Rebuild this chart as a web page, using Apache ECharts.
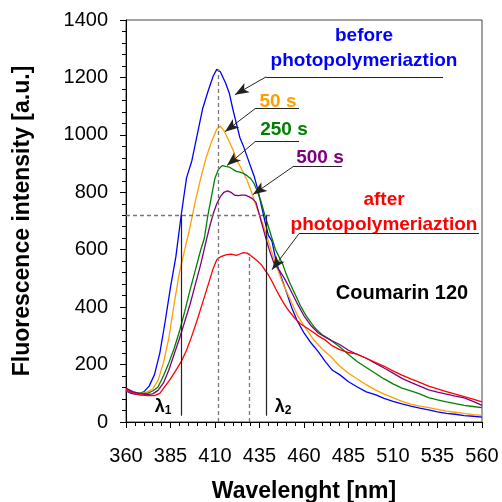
<!DOCTYPE html>
<html>
<head>
<meta charset="utf-8">
<script src="https://cdn.jsdelivr.net/npm/echarts@6/dist/echarts.min.js"></script>
<style>
  html, body { margin: 0; background: #fff; }
  #chart { width: 502px; height: 502px; }
</style>
</head>
<body>
<div id="chart"></div>
<script>
// spectra: [wavelength nm, intensity a.u.]
const before = [[360,108],[363,100],[366,96],[370,105],[373,125],[376,165],[379,240],[382,350],[385,470],[388,575],[391,720],[394,850],[397,910],[400,1000],[403,1090],[406,1150],[409,1205],[411,1228],[413,1220],[416,1180],[418,1146],[420,1090],[422,1040],[424,990],[426,960],[428,925],[430,890],[432,856],[434,810],[436,755],[438,700],[440,650],[442,630],[444,570],[446,525],[448,490],[450,455],[453,400],[456,355],[460,310],[464,275],[468,245],[472,210],[476,180],[480,165],[485,140],[490,122],[495,105],[500,95],[505,82],[510,72],[515,63],[520,55],[525,48],[530,42],[535,35],[540,30],[545,27],[550,22],[555,20],[560,17]];
const s50 = [[360,110],[364,102],[368,100],[372,105],[375,115],[378,145],[381,205],[384,290],[387,410],[390,520],[393,600],[396,680],[399,770],[402,850],[405,920],[408,975],[411,1020],[413,1030],[415,1015],[417,990],[420,950],[422,915],[425,880],[428,842],[430,810],[433,755],[436,705],[439,650],[442,590],[445,535],[448,485],[452,430],[456,375],[460,335],[465,290],[470,255],[475,228],[480,195],[485,170],[490,150],[495,130],[500,112],[505,97],[510,85],[515,72],[520,62],[525,55],[530,50],[535,44],[540,38],[545,34],[550,30],[555,26],[560,23]];
const s250 = [[360,115],[364,105],[368,100],[372,100],[375,108],[378,122],[381,160],[384,205],[387,255],[390,315],[393,385],[396,460],[399,530],[402,600],[404,640],[406,720],[408,785],[410,850],[412,880],[414,893],[416,890],[418,888],[420,880],[422,873],[424,870],[426,866],[428,858],[430,848],[432,830],[434,800],[436,765],[438,720],[440,680],[442,640],[444,600],[446,575],[448,550],[450,515],[452,485],[455,445],[458,405],[461,372],[464,345],[467,322],[470,305],[475,285],[480,262],[485,235],[490,210],[495,190],[500,170],[505,150],[510,133],[515,118],[520,108],[525,98],[530,85],[535,77],[540,70],[545,64],[550,58],[555,54],[560,50]];
const s500 = [[360,118],[364,105],[368,98],[372,95],[375,98],[378,110],[381,135],[384,180],[387,235],[390,290],[393,350],[396,410],[399,480],[402,550],[405,630],[407,680],[409,725],[411,760],[413,785],[415,800],[417,805],[419,800],[421,790],[423,788],[425,790],[427,790],[429,785],[431,778],[433,765],[435,720],[437,675],[439,630],[441,590],[443,555],[446,530],[449,500],[452,465],[456,415],[460,370],[464,335],[468,310],[472,295],[476,282],[480,270],[485,250],[490,235],[495,222],[500,205],[505,188],[510,170],[515,152],[520,138],[525,125],[530,112],[535,104],[540,97],[545,90],[550,84],[555,72],[560,58]];
const after = [[360,112],[364,100],[368,94],[372,92],[376,92],[379,100],[382,125],[385,150],[388,180],[391,210],[394,250],[397,300],[400,355],[403,415],[406,475],[409,535],[411,565],[413,575],[416,582],[419,585],[422,580],[424,585],[426,590],[428,588],[430,580],[432,570],[434,560],[436,548],[438,530],[440,512],[442,490],[444,465],[446,442],[448,420],[450,400],[452,383],[455,360],[458,342],[461,330],[464,318],[468,300],[472,285],[476,265],[480,252],[485,242],[490,236],[495,222],[500,208],[505,194],[510,178],[515,163],[520,150],[525,138],[530,125],[535,115],[540,106],[545,97],[550,88],[555,80],[560,70]];

// guide lines (data units)
const peakBefore = [412, 1228];
const peakAfter = [429, 588];
const level = 720;
const lambda1 = 391;
const lambda2 = 439;

const font = '"Liberation Sans", Arial, sans-serif';
const colors = { before: '#0000ff', s50: '#ffa000', s250: '#008000', s500: '#800080', after: '#ff0000' };

// callout leader lines: underline start/end and arrow tip, in data units
const callouts = [
  { under: [[438.7, 1202], [538.1, 1202]], tip: [421.2, 1140] },
  { under: [[432.5, 1091], [457.2, 1091]], tip: [415.6, 1011] },
  { under: [[432.5, 976], [457.2, 976]], tip: [416.7, 893] },
  { under: [[453.8, 889], [481.3, 889]], tip: [431.3, 792] },
  { under: [[457.2, 656], [558.3, 656]], tip: [442.0, 530] }
];

const chart = echarts.init(document.getElementById('chart'));

function curve(name, data, color) {
  return {
    name, type: 'line', data, showSymbol: false, smooth: false,
    lineStyle: { color, width: 1.3 }, itemStyle: { color },
    silent: true, animation: false, z: 3
  };
}

const dashedLines = [
  [{ coord: [peakBefore[0], 0] }, { coord: peakBefore }],
  [{ coord: [peakAfter[0], 0] }, { coord: peakAfter }],
  [{ coord: [360, level] }, { coord: [441, level] }]
];
const solidLines = [
  [{ coord: [lambda1, 22] }, { coord: [lambda1, level] }],
  [{ coord: [lambda2, 22] }, { coord: [lambda2, level] }]
];
const underLines = callouts.map(c => [{ coord: c.under[0] }, { coord: c.under[1] }]);
const arrowLines = callouts.map(c => [{ coord: c.under[0] }, { coord: c.tip }]);

function guides(data, style, symbol, z) {
  return {
    type: 'line', data: [], silent: true, animation: false, z,
    markLine: {
      silent: true, animation: false, symbol, symbolSize: [8, 14],
      label: { show: false }, emphasis: { disabled: true },
      itemStyle: { color: '#111' },
      lineStyle: style, data
    }
  };
}

const tickStyle = { color: '#000', width: 1 };
const labelStyle = { fontFamily: font, fontSize: 20, color: '#000' };
const titleStyle = { fontFamily: font, fontSize: 23, fontWeight: 'bold', color: '#000' };

const option = {
  animation: false,
  grid: {
    left: 126, right: 20, top: 20, bottom: 80, containLabel: false, outerBoundsMode: 'none',
    show: true, borderColor: '#444', borderWidth: 1
  },
  xAxis: [
    {
      type: 'value', min: 360, max: 560, interval: 5,
      name: 'Wavelenght [nm]', nameLocation: 'middle', nameGap: 58, nameTextStyle: titleStyle,
      axisLine: { show: true, onZero: false, lineStyle: { color: '#000', width: 1 } },
      axisTick: { show: true, length: 4, lineStyle: tickStyle },
      axisLabel: Object.assign({ margin: 24, formatter: v => ((v - 360) % 25 === 0 ? String(v) : '') }, labelStyle),
      splitLine: { show: false }
    },
    {
      type: 'value', min: 360, max: 560, interval: 25, position: 'bottom',
      axisLine: { show: false, onZero: false },
      axisTick: { show: true, length: 6, lineStyle: tickStyle },
      axisLabel: { show: false }, splitLine: { show: false }
    }
  ],
  yAxis: [
    {
      type: 'value', min: 0, max: 1400, interval: 40,
      name: 'Fluorescence intensity [a.u.]', nameLocation: 'middle', nameGap: 92, nameRotate: 90, nameTextStyle: titleStyle,
      axisLine: { show: true, onZero: false, lineStyle: { color: '#000', width: 1 } },
      axisTick: { show: true, length: 4, lineStyle: tickStyle },
      axisLabel: Object.assign({ margin: 18, formatter: v => (v % 200 === 0 ? String(v) : '') }, labelStyle),
      splitLine: { show: false }
    },
    {
      type: 'value', min: 0, max: 1400, interval: 200, position: 'left',
      axisLine: { show: false, onZero: false },
      axisTick: { show: true, length: 6, lineStyle: tickStyle },
      axisLabel: { show: false }, splitLine: { show: false }
    }
  ],
  series: [
    guides(dashedLines, { color: '#777', width: 1.3, type: [4, 3] }, ['none', 'none'], 1),
    guides(solidLines, { color: '#222', width: 1.2, type: 'solid' }, ['none', 'none'], 1),
    curve('before', before, colors.before),
    curve('50 s', s50, colors.s50),
    curve('250 s', s250, colors.s250),
    curve('500 s', s500, colors.s500),
    curve('after', after, colors.after),
    guides(underLines, { color: '#222', width: 1, type: 'solid' }, ['none', 'none'], 5),
    guides(arrowLines, { color: '#222', width: 1, type: 'solid' }, ['none', 'arrow'], 5)
  ],
  graphic: [
    { type: 'text', x: 364, y: 36, style: { text: 'before', fill: colors.before, font: 'bold 19px ' + font, align: 'center', verticalAlign: 'middle' } },
    { type: 'text', x: 364, y: 61, style: { text: 'photopolymeriaztion', fill: colors.before, font: 'bold 19px ' + font, align: 'center', verticalAlign: 'middle' } },
    { type: 'text', x: 278, y: 102, style: { text: '50 s', fill: colors.s50, font: 'bold 19px ' + font, align: 'center', verticalAlign: 'middle' } },
    { type: 'text', x: 284, y: 130, style: { text: '250 s', fill: colors.s250, font: 'bold 19px ' + font, align: 'center', verticalAlign: 'middle' } },
    { type: 'text', x: 320, y: 158, style: { text: '500 s', fill: colors.s500, font: 'bold 19px ' + font, align: 'center', verticalAlign: 'middle' } },
    { type: 'text', x: 384, y: 200, style: { text: 'after', fill: colors.after, font: 'bold 19px ' + font, align: 'center', verticalAlign: 'middle' } },
    { type: 'text', x: 384, y: 225, style: { text: 'photopolymeriaztion', fill: colors.after, font: 'bold 19px ' + font, align: 'center', verticalAlign: 'middle' } },
    { type: 'text', x: 402, y: 293, style: { text: 'Coumarin 120', fill: '#000', font: 'bold 20px ' + font, align: 'center', verticalAlign: 'middle' } },
    { type: 'text', x: 163, y: 407, style: { text: '{a|λ}{b|1}', align: 'center', verticalAlign: 'middle',
      rich: { a: { font: 'bold 18px ' + font, fill: '#000' }, b: { font: 'bold 12px ' + font, fill: '#000', padding: [8, 0, 0, 0] } } } },
    { type: 'text', x: 283, y: 407, style: { text: '{a|λ}{b|2}', align: 'center', verticalAlign: 'middle',
      rich: { a: { font: 'bold 18px ' + font, fill: '#000' }, b: { font: 'bold 12px ' + font, fill: '#000', padding: [8, 0, 0, 0] } } } }
  ]
};

chart.setOption(option);
</script>
</body>
</html>
